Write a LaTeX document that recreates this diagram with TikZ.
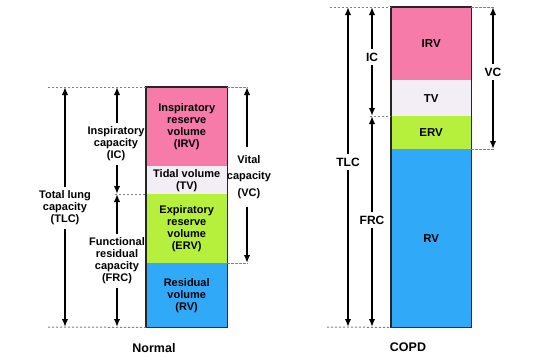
\documentclass[tikz,border=0pt]{standalone}
\usepackage{fontspec}
\setmainfont{Liberation Sans}
\usetikzlibrary{arrows.meta}
\definecolor{irvc}{HTML}{F77BA9}
\definecolor{tvc}{HTML}{F3EDF6}
\definecolor{ervc}{HTML}{B6F03C}
\definecolor{rvc}{HTML}{31A9F9}
\definecolor{dshc}{HTML}{808080}
\begin{document}
\begin{tikzpicture}[x=1pt,y=-1pt,
  seg/.style={draw=none,inner sep=0pt,anchor=north west,align=center,
    font=\bfseries\fontsize{11}{12}\selectfont,text=black},
  cseg/.style={seg,font=\bfseries\fontsize{11.5}{13}\selectfont},
  lab/.style={align=center,inner sep=1pt,outer sep=3pt,
    font=\bfseries\fontsize{11}{12}\selectfont,text=black},
  clab/.style={lab,font=\bfseries\fontsize{12}{14}\selectfont},
  ttl/.style={font=\bfseries\fontsize{12.5}{14}\selectfont,text=black},
  arr/.style={-{Latex[length=8pt,width=6.5pt]},line width=1.6pt,black},
  dsh/.style={dshc,line width=1pt,dash pattern=on 2.2pt off 1.8pt},
  outl/.style={draw=black!85,line width=1.2pt}]
\useasboundingbox (0,0) rectangle (550,360);

% ---------------- Normal ----------------
\node[seg,fill=irvc,minimum width=81pt,minimum height=79pt] (nIRV) at (146,87) {Inspiratory\\reserve\\volume\\(IRV)};
\node[seg,fill=tvc,minimum width=81pt,minimum height=28pt] (nTV) at (146,166) {Tidal volume\\(TV)};
\node[seg,fill=ervc,minimum width=81pt,minimum height=69pt] (nERV) at (146,194) {Expiratory\\reserve\\volume\\(ERV)};
\node[seg,fill=rvc,minimum width=81pt,minimum height=64pt] (nRV) at (146,263) {Residual\\volume\\(RV)};
\draw[outl] (nIRV.north west) rectangle (nRV.south east);

\coordinate (nTopL) at (48,87);
\coordinate (nTopR) at (248,87);
\coordinate (nMidL) at (115,194);
\coordinate (nVCb) at (248,263);
\coordinate (nBotL) at (48,327);
\draw[dsh] (nTopL) -- (nIRV.north west);
\draw[dsh] (nIRV.north east) -- (nTopR);
\draw[dsh] (nMidL) -- (nERV.north west);
\draw[dsh] (nRV.north east) -- (nVCb);
\draw[dsh] (nBotL) -- (nRV.south west);

\coordinate (nTLCt) at (65,87);
\coordinate (nTLCb) at (65,327);
\coordinate (nICt) at (117,87);
\coordinate (nICb) at (117,194);
\coordinate (nFRCt) at (117,194);
\coordinate (nFRCb) at (117,327);
\coordinate (nVCt) at (247,87);
\coordinate (nVCbb) at (247,263);

\node[lab] (nTLC) at (65,208) {Total lung\\capacity\\(TLC)};
\node[lab] (nIC) at (116,144) {Inspiratory\\capacity\\(IC)};
\node[lab] (nFRC) at (117,261) {Functional\\residual\\capacity\\(FRC)};
\node[lab,font=\bfseries\fontsize{11}{16.5}\selectfont,outer sep=7pt] (nVC) at (249,177) {Vital\\capacity\\(VC)};

\draw[arr] (nTLC.north) -- (nTLCt);
\draw[arr] (nTLC.south) -- (nTLCb);
\draw[arr] (nIC.north -| nICt) -- (nICt);
\draw[arr] (nIC.south -| nICb) -- (nICb);
\draw[arr] (nFRC.north) -- (nFRCt);
\draw[arr] (nFRC.south) -- (nFRCb);
\draw[arr] (nVC.north -| nVCt) -- (nVCt);
\draw[arr] (nVC.south -| nVCbb) -- (nVCbb);

\node[ttl] (nTitle) at (154,348) {Normal};

% ---------------- COPD ----------------
\node[cseg,fill=irvc,minimum width=80pt,minimum height=73pt] (cIRV) at (391,7) {IRV};
\node[cseg,fill=tvc,minimum width=80pt,minimum height=36pt] (cTV) at (391,80) {TV};
\node[cseg,fill=ervc,minimum width=80pt,minimum height=33pt] (cERV) at (391,116) {ERV};
\node[cseg,fill=rvc,minimum width=80pt,minimum height=178pt] (cRV) at (391,149) {RV};
\draw[outl] (cIRV.north west) rectangle (cRV.south east);

\coordinate (cTopL) at (330,7);
\coordinate (cTopR) at (494,7);
\coordinate (cMidL) at (370,116);
\coordinate (cVCb) at (494,149);
\coordinate (cBotL) at (327,327);
\draw[dsh] (cTopL) -- (cIRV.north west);
\draw[dsh] (cIRV.north east) -- (cTopR);
\draw[dsh] (cMidL) -- (cERV.north west);
\draw[dsh] (cRV.north east) -- (cVCb);
\draw[dsh] (cBotL) -- (cRV.south west);

\coordinate (cTLCt) at (348,7);
\coordinate (cTLCb) at (348,327);
\coordinate (cICt) at (372,7);
\coordinate (cICb) at (372,116);
\coordinate (cFRCt) at (372,116);
\coordinate (cFRCb) at (372,327);
\coordinate (cVCt) at (493,7);
\coordinate (cVCbb) at (493,149);

\node[clab] (cTLC) at (348,162) {TLC};
\node[clab] (cIC) at (372,57) {IC};
\node[clab] (cFRC) at (372,220) {FRC};
\node[clab] (cVC) at (493,72) {VC};

\draw[arr] (cTLC.north) -- (cTLCt);
\draw[arr] (cTLC.south) -- (cTLCb);
\draw[arr] (cIC.north) -- (cICt);
\draw[arr] (cIC.south) -- (cICb);
\draw[arr] (cFRC.north) -- (cFRCt);
\draw[arr] (cFRC.south) -- (cFRCb);
\draw[arr] (cVC.north) -- (cVCt);
\draw[arr] (cVC.south) -- (cVCbb);

\node[ttl] (cTitle) at (408,347) {COPD};
\end{tikzpicture}
\end{document}
